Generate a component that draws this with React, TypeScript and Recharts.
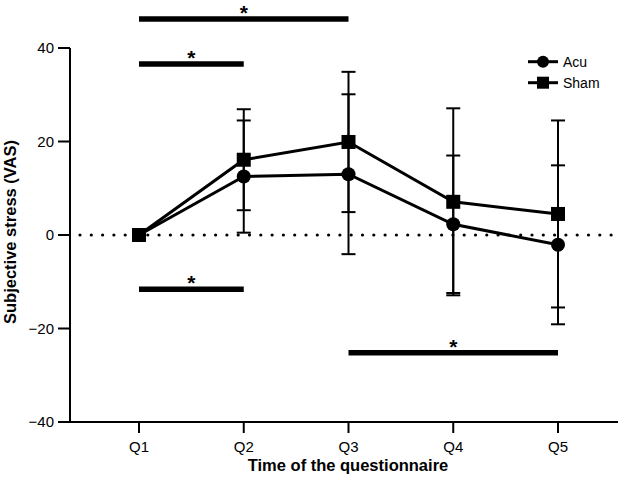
import { ErrorBar, Legend, Line, LineChart, ReferenceLine, XAxis, YAxis } from "recharts";

const categories = ["Q1", "Q2", "Q3", "Q4", "Q5"];
const acuMean = [0, 12.5, 13.0, 2.3, -2.1];
const acuSd = [0, 12.0, 17.1, 14.7, 17.0];
const shamMean = [0, 16.1, 19.9, 7.1, 4.5];
const shamSd = [0, 10.8, 15.0, 20.0, 20.0];
const yTicks = [-40, -20, 0, 20, 40];

// significance bars (from, to, height) with a star on top
const sigFrom = ["Q1", "Q1", "Q1", "Q3"];
const sigTo = ["Q3", "Q2", "Q2", "Q5"];
const sigY = [46.2, 36.6, -11.6, -25.2];

const data = categories.map((q, i) => ({
  q,
  acu: acuMean[i],
  acuSd: acuSd[i],
  sham: shamMean[i],
  shamSd: shamSd[i],
}));

const FONT = "'Liberation Sans', Arial, sans-serif";

const SquareDot = (props: any) => {
  const { cx, cy } = props;
  if (cx == null || cy == null) return <g />;
  return <rect x={cx - 7} y={cy - 7} width={14} height={14} fill="#000" />;
};

const CircleDot = (props: any) => {
  const { cx, cy } = props;
  if (cx == null || cy == null) return <g />;
  return <circle cx={cx} cy={cy} r={7} fill="#000" />;
};

const StarLabel = (props: any) => {
  const vb = props.viewBox || {};
  const cx = (vb.x ?? 0) + (vb.width ?? 0) / 2;
  return (
    <text
      x={cx}
      y={(vb.y ?? 0) + 1}
      textAnchor="middle"
      fontSize={21}
      fontWeight="bold"
      fill="#000"
      fontFamily={FONT}
    >
      *
    </text>
  );
};

const YTitle = (props: any) => {
  const vb = props.viewBox || {};
  const cy = (vb.y ?? 0) + (vb.height ?? 0) / 2 - 3;
  return (
    <text
      x={16}
      y={cy}
      transform={`rotate(-90, 16, ${cy})`}
      textAnchor="middle"
      fontSize={16.5}
      fontWeight="bold"
      fill="#000"
    >
      Subjective stress (VAS)
    </text>
  );
};

const XTitle = (props: any) => {
  const vb = props.viewBox || {};
  const cx = (vb.x ?? 0) + (vb.width ?? 0) / 2 + 4;
  return (
    <text x={cx} y={(vb.y ?? 0) + 49} textAnchor="middle" fontSize={16.5} fontWeight="bold" fill="#000">
      Time of the questionnaire
    </text>
  );
};

const renderLegend = () => (
  <svg width={103} height={46}>
    <g>
      <line x1={8} y1={11.7} x2={38} y2={11.7} stroke="#000" strokeWidth={3} />
      <circle cx={23} cy={11.7} r={6} fill="#000" />
      <text x={43} y={11.7} dominantBaseline="central" fontSize={14} fill="#000" fontFamily={FONT}>
        Acu
      </text>
    </g>
    <g>
      <line x1={8} y1={32.7} x2={38} y2={32.7} stroke="#000" strokeWidth={3} />
      <rect x={17} y={26.7} width={12} height={12} fill="#000" />
      <text x={43} y={32.7} dominantBaseline="central" fontSize={14} fill="#000" fontFamily={FONT}>
        Sham
      </text>
    </g>
  </svg>
);

export default function App() {
  return (
    <div style={{ position: "absolute", left: 0, top: 0 }}>
      <LineChart
        width={623}
        height={478}
        data={data}
        margin={{ top: 48, right: 5, bottom: 0, left: 0 }}
        style={{ fontFamily: FONT }}
      >
        <XAxis
          dataKey="q"
          type="category"
          padding={{ left: 69, right: 60 }}
          height={56}
          axisLine={{ stroke: "#000", strokeWidth: 2 }}
          tickLine={{ stroke: "#000", strokeWidth: 2 }}
          tickSize={11}
          tickMargin={8}
          tick={{ fill: "#000", fontSize: 15 }}
          label={XTitle}
        />
        <YAxis
          width={70}
          domain={[-40, 40]}
          ticks={yTicks}
          axisLine={{ stroke: "#000", strokeWidth: 2 }}
          tickLine={{ stroke: "#000", strokeWidth: 2 }}
          tickSize={12}
          tickMargin={4}
          tick={{ fill: "#000", fontSize: 15 }}
          tickFormatter={(v: number) => (v < 0 ? `\u2212${Math.abs(v)}` : `${v}`)}
          label={YTitle}
        />
        <ReferenceLine
          y={0}
          stroke="#000"
          strokeWidth={3.2}
          strokeDasharray="0 11.3"
          strokeDashoffset={-10}
          strokeLinecap="round"
        />
        {sigY.map((y, i) => (
          <ReferenceLine
            key={i}
            segment={[
              { x: sigFrom[i], y },
              { x: sigTo[i], y },
            ]}
            stroke="#000"
            strokeWidth={5.5}
            ifOverflow="visible"
            label={StarLabel}
          />
        ))}
        <Line
          dataKey="acu"
          name="Acu"
          stroke="#000"
          strokeWidth={3}
          dot={CircleDot}
          activeDot={false}
          isAnimationActive={false}
        >
          <ErrorBar dataKey="acuSd" direction="y" width={7} stroke="#000" strokeWidth={2} isAnimationActive={false} />
        </Line>
        <Line
          dataKey="sham"
          name="Sham"
          stroke="#000"
          strokeWidth={3}
          dot={SquareDot}
          activeDot={false}
          isAnimationActive={false}
        >
          <ErrorBar dataKey="shamSd" direction="y" width={7} stroke="#000" strokeWidth={2} isAnimationActive={false} />
        </Line>
        <Legend
          layout="vertical"
          align="center"
          verticalAlign="middle"
          content={renderLegend}
          wrapperStyle={{ position: "absolute", left: 520, top: 50, width: 103, height: 46 }}
        />
      </LineChart>
    </div>
  );
}
